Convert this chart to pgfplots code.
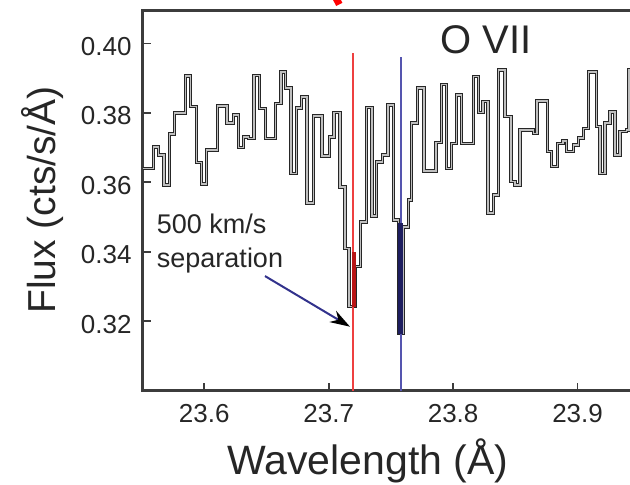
\documentclass[border=0pt]{standalone}
\usepackage{fontspec}
\setmainfont{Liberation Sans}
\usepackage{pgfplots}
\usepackage{pgfplotstable}
\pgfplotsset{compat=1.18}
\usetikzlibrary{arrows.meta}

\definecolor{axisgray}{RGB}{60,60,60}
\definecolor{linered}{RGB}{238,64,64}
\definecolor{lineblue}{RGB}{85,85,175}
\definecolor{thickred}{RGB}{185,20,20}
\definecolor{thickblue}{RGB}{30,30,95}
\definecolor{arrowblue}{RGB}{50,50,140}

\pgfplotstableread{
x y
23.5505 0.3640
23.5590 0.3702
23.5630 0.3679
23.5676 0.3592
23.5719 0.3739
23.5761 0.3799
23.5849 0.3906
23.5889 0.3818
23.5937 0.3657
23.5979 0.3595
23.6019 0.3693
23.6105 0.3820
23.6183 0.3770
23.6233 0.3794
23.6275 0.3700
23.6314 0.3731
23.6354 0.3726
23.6400 0.3907
23.6442 0.3813
23.6490 0.3726
23.6574 0.3827
23.6617 0.3918
23.6653 0.3871
23.6697 0.3626
23.6743 0.3814
23.6783 0.3846
23.6825 0.3540
23.6876 0.3791
23.6948 0.3676
23.7005 0.3731
23.7042 0.3801
23.7091 0.3587
23.7131 0.3410
23.7163 0.3242
23.7211 0.3357
23.7255 0.3486
23.7305 0.3815
23.7348 0.3503
23.7386 0.3659
23.7434 0.3679
23.7476 0.3823
23.7519 0.3491
23.7561 0.3165
23.7597 0.3472
23.7640 0.3549
23.7667 0.3770
23.7712 0.3871
23.7766 0.3632
23.7862 0.3715
23.7908 0.3882
23.7948 0.3640
23.7988 0.3712
23.8029 0.3851
23.8069 0.3712
23.8162 0.3904
23.8202 0.3801
23.8242 0.3832
23.8282 0.3511
23.8323 0.3563
23.8363 0.3923
23.8417 0.3789
23.8465 0.3602
23.8497 0.3592
23.8537 0.3751
23.8644 0.3741
23.8676 0.3834
23.8757 0.3688
23.8792 0.3645
23.8837 0.3712
23.8885 0.3719
23.8913 0.3688
23.8966 0.3707
23.9006 0.3727
23.9046 0.3755
23.9086 0.3918
23.9154 0.3760
23.9180 0.3626
23.9220 0.3770
23.9261 0.3803
23.9301 0.3679
23.9341 0.3746
23.9395 0.3751
23.9413 0.3923
23.9550 0.3923
}\spectrum

\begin{document}
\begin{tikzpicture}
\begin{axis}[
  name=ax,
  scale only axis,
  width=509.5bp, height=380bp,
  xmin=23.5505, xmax=23.96,
  ymin=0.30, ymax=0.4094,
  clip=false,
  xtick={23.6,23.7,23.8,23.9},
  ytick={0.32,0.34,0.36,0.38,0.40},
  tick align=inside,
  xtick pos=bottom, ytick pos=left,
  major tick length=8bp,
  axis line style={line width=2.5bp, axisgray},
  tick style={line width=1.6bp, axisgray},
  /pgf/number format/assume math mode=true,
  xticklabel style={/pgf/number format/.cd, fixed, precision=1, /tikz/.cd,
    anchor=north, inner sep=0pt, yshift=-13bp,
    font=\fontsize{26bp}{30bp}\selectfont, text=black!85},
  yticklabel style={/pgf/number format/.cd, fixed, fixed zerofill, precision=2, /tikz/.cd,
    anchor=east, inner sep=0pt, xshift=-11bp, yshift=-3bp,
    font=\fontsize{26bp}{30bp}\selectfont, text=black!85},
  xlabel={Wavelength (Å)},
  ylabel={Flux (cts/s/Å)},
  xlabel style={at={(axis description cs:0.4420,-0.2218)}, anchor=base,
    font=\fontsize{41bp}{49bp}\selectfont, text=black!85},
  ylabel style={at={(axis description cs:-0.1721,0.502)}, anchor=base,
    font=\fontsize{39bp}{46bp}\selectfont, text=black!85},
]
\addplot[const plot, mark=none, draw=black!85, line width=1bp,
  double=black!25, double distance=1.5bp] table[x=x,y=y] {\spectrum};
\addplot[linered, line width=2.2bp, mark=none] coordinates {(23.7195,0.30) (23.7195,0.3973)};
\addplot[lineblue, line width=2.2bp, mark=none] coordinates {(23.7583,0.30) (23.7583,0.3962)};
\addplot[thickred, line width=4bp, mark=none] coordinates {(23.7200,0.3242) (23.7200,0.3400)};
\addplot[thickblue, line width=5bp, mark=none] coordinates {(23.7580,0.3163) (23.7580,0.3482)};
\draw[arrowblue, line width=2bp, -{Stealth[length=20bp,width=13bp,black]}]
  (axis cs:23.6488,0.3330) -- (axis cs:23.7171,0.31843);
\node[anchor=base west, inner sep=0pt, font=\fontsize{27bp}{32bp}\selectfont, text=black!85]
  at (axis cs:23.5618,0.34531) {500 km/s};
\node[anchor=base west, inner sep=0pt, font=\fontsize{27bp}{32bp}\selectfont, text=black!85]
  at (axis cs:23.5618,0.33561) {separation};
\node[anchor=base west, inner sep=0pt, font=\fontsize{40bp}{48bp}\selectfont, text=black!85]
  at (axis cs:23.7894,0.3972) {O VII};
\draw[red, line width=7bp] (axis cs:23.7010,0.4165) -- (axis cs:23.7085,0.4112);
\end{axis}
\pgfresetboundingbox
\path[use as bounding box] ([xshift=-142.7bp,yshift=-94.3bp]ax.south west) rectangle ([xshift=487.3bp,yshift=10.7bp]ax.north west);
\end{tikzpicture}
\end{document}
